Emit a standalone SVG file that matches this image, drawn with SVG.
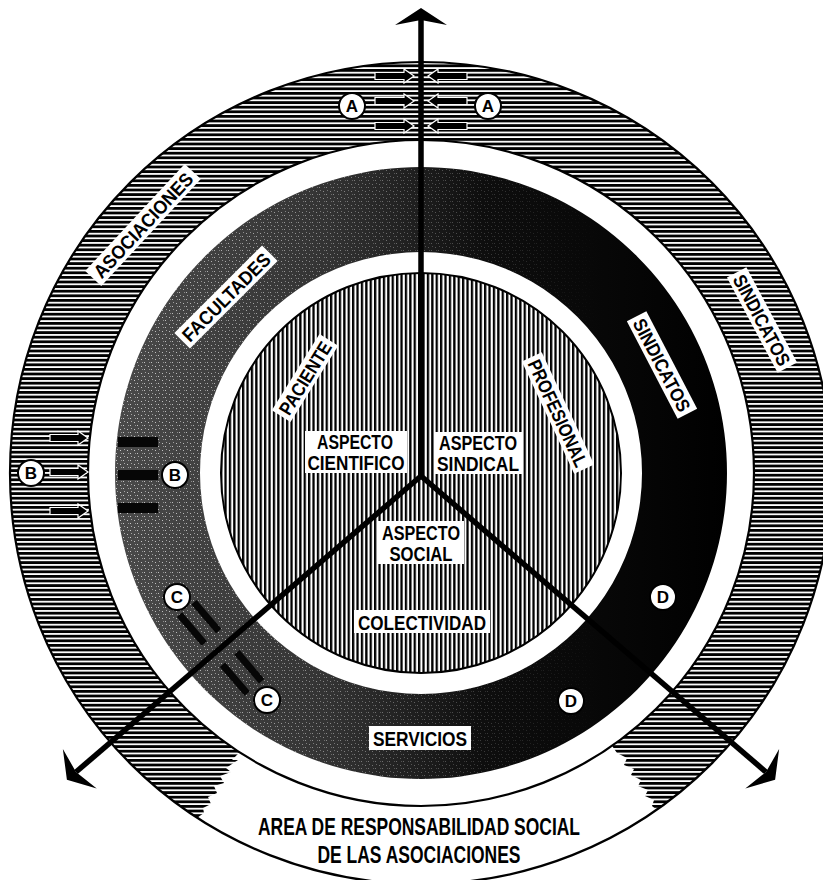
<svg xmlns="http://www.w3.org/2000/svg" width="823" height="880" viewBox="0 0 823 880">
<style>
.lbl{font-family:"Liberation Sans Narrow","Liberation Sans",Arial,sans-serif;font-weight:bold;fill:#000;text-anchor:middle}
.box{fill:#fff}
.ln{stroke:#000;stroke-width:5.5;fill:none}
.circ{fill:#fff;stroke:#000;stroke-width:2}
.let{font-family:"Liberation Sans",Arial,sans-serif;font-weight:bold;font-size:17px;fill:#000;text-anchor:middle}
.arr{fill:#000;stroke:#fff;stroke-width:1.2}
.bar{fill:#060606}
</style>
<defs>
<pattern id="hh" width="8" height="4.6" patternUnits="userSpaceOnUse"><rect width="8" height="4.6" fill="#fff"/><rect width="8" height="2.8" fill="#000"/></pattern>
<pattern id="vh" width="4.4" height="8" patternUnits="userSpaceOnUse"><rect width="4.4" height="8" fill="#fff"/><rect width="2.3" height="8" fill="#000"/></pattern>
<linearGradient id="dg" gradientUnits="userSpaceOnUse" x1="115" y1="0" x2="728" y2="0">
<stop offset="0" stop-color="#4a4a4a"/><stop offset="0.35" stop-color="#333"/><stop offset="0.6" stop-color="#0e0e0e"/><stop offset="1" stop-color="#000"/>
</linearGradient>
<pattern id="sp" width="7" height="7" patternUnits="userSpaceOnUse"><rect x="1" y="2" width="1" height="1" fill="#ccc"/><rect x="4" y="5" width="1" height="1" fill="#ccc"/><rect x="5" y="1" width="1" height="1" fill="#aaa"/><rect x="2" y="5" width="1" height="1" fill="#999"/></pattern>
<linearGradient id="mg" gradientUnits="userSpaceOnUse" x1="115" y1="0" x2="600" y2="0"><stop offset="0" stop-color="#fff"/><stop offset="1" stop-color="#000"/></linearGradient>
<mask id="spm"><rect width="823" height="880" fill="url(#mg)"/></mask>
<marker id="ah" markerUnits="userSpaceOnUse" viewBox="-6 -28 20 56" markerWidth="20" markerHeight="56" refX="0" refY="0" orient="auto">
<path d="M12,0 L-5,-26 L0,0 L-5,26 Z" fill="#000"/>
</marker>
</defs>

<g id="asociaciones-ring">
<path d="M197.2,817.7 A411,411 0 1 1 656.7,809.7 L652,806 L654,800 L645,796 L648,790 L638,786 L641,780 L631,775 L634,769 L624,765 L627,758 L617,753 L612,745.8 A333,333 0 1 0 239.6,752.3 L232,760 L238,760 L226,768 L231,772 L220,776 L224,783 L214,786 L217,793 L208,797 L211,804 L203,808 L204,813 Z" fill="url(#hh)"/>
<circle cx="421" cy="473" r="411" fill="none" stroke="#000" stroke-width="2.2"/>
<circle cx="421" cy="473" r="333" fill="none" stroke="#000" stroke-width="2.2"/>
</g>

<g id="facultades-ring">
<path d="M421,167 A306,306 0 1 1 420.99,167 Z M421,252 A221,221 0 1 0 421.01,252 Z" fill="url(#dg)" fill-rule="evenodd"/>
<path d="M421,167 A306,306 0 1 1 420.99,167 Z M421,252 A221,221 0 1 0 421.01,252 Z" fill="url(#sp)" fill-rule="evenodd" mask="url(#spm)"/>
<rect class="bar" x="118" y="437" width="40" height="10"/>
<rect class="bar" x="118" y="470" width="40" height="10"/>
<rect class="bar" x="118" y="503" width="40" height="10"/>
<g transform="translate(220.6,647.9) rotate(49.4)">
<rect class="bar" x="-52" y="-13" width="38" height="7"/>
<rect class="bar" x="-52" y="6" width="38" height="7"/>
<rect class="bar" x="14" y="-13" width="38" height="7"/>
<rect class="bar" x="14" y="6" width="38" height="7"/>
</g>
</g>

<g id="inner-circle">
<circle cx="421" cy="473" r="200" fill="url(#vh)" stroke="#000" stroke-width="2"/>
</g>

<g id="connectors">
<line class="ln" x1="421" y1="476" x2="421" y2="20" stroke-width="6" marker-end="url(#ah)"/>
<line class="ln" x1="421" y1="476" x2="76" y2="772" marker-end="url(#ah)"/>
<line class="ln" x1="421" y1="476" x2="766" y2="772" marker-end="url(#ah)"/>
</g>

<g id="arrows-A">
<polygon class="arr" points="375,72.5 404,72.5 404,69 414,76 404,83 404,79.5 375,79.5"/>
<polygon class="arr" points="375,97.5 404,97.5 404,94 414,101 404,108 404,104.5 375,104.5"/>
<polygon class="arr" points="375,122.5 404,122.5 404,119 414,126 404,133 404,129.5 375,129.5"/>
<polygon class="arr" points="467,72.5 438,72.5 438,69 428,76 438,83 438,79.5 467,79.5"/>
<polygon class="arr" points="467,97.5 438,97.5 438,94 428,101 438,108 438,104.5 467,104.5"/>
<polygon class="arr" points="467,122.5 438,122.5 438,119 428,126 438,133 438,129.5 467,129.5"/>
</g>
<g id="arrows-B">
<polygon class="arr" points="50,434.5 78,434.5 78,431 88,438 78,445 78,441.5 50,441.5"/>
<polygon class="arr" points="50,468.5 78,468.5 78,465 88,472 78,479 78,475.5 50,475.5"/>
<polygon class="arr" points="50,507.5 78,507.5 78,504 88,511 78,518 78,514.5 50,514.5"/>
</g>

<g id="marks">
<g id="A1"><circle class="circ" cx="352" cy="106" r="13"/><text class="let" x="352" y="112">A</text></g>
<g id="A2"><circle class="circ" cx="488" cy="106" r="13"/><text class="let" x="488" y="112">A</text></g>
<g id="B1"><circle class="circ" cx="31" cy="473" r="13"/><text class="let" x="31" y="479">B</text></g>
<g id="B2"><circle class="circ" cx="175" cy="475" r="13"/><text class="let" x="175" y="481">B</text></g>
<g id="C1"><circle class="circ" cx="177" cy="597" r="13"/><text class="let" x="177" y="603">C</text></g>
<g id="C2"><circle class="circ" cx="267" cy="700" r="13"/><text class="let" x="267" y="706">C</text></g>
<g id="D1"><circle class="circ" cx="663" cy="597" r="13"/><text class="let" x="663" y="603">D</text></g>
<g id="D2"><circle class="circ" cx="571" cy="701" r="13"/><text class="let" x="571" y="707">D</text></g>
</g>

<g id="ring-labels">
<g id="lbl-asociaciones" transform="translate(143,225) rotate(-47)"><rect class="box" x="-73" y="-11" width="146" height="22"/><text class="lbl" x="0" y="7" font-size="19" textLength="136" lengthAdjust="spacingAndGlyphs">ASOCIACIONES</text></g>
<g id="lbl-facultades" transform="translate(226,297) rotate(-45)"><rect class="box" x="-62" y="-11" width="124" height="22"/><text class="lbl" x="0" y="7" font-size="19" textLength="116" lengthAdjust="spacingAndGlyphs">FACULTADES</text></g>
<g id="lbl-sindicatos-out" transform="translate(762,320) rotate(62)"><rect class="box" x="-54" y="-11" width="108" height="22"/><text class="lbl" x="0" y="7" font-size="19" textLength="100" lengthAdjust="spacingAndGlyphs">SINDICATOS</text></g>
<g id="lbl-sindicatos-in" transform="translate(662,365) rotate(62.5)"><rect class="box" x="-55" y="-11" width="110" height="22"/><text class="lbl" x="0" y="7" font-size="19" textLength="102" lengthAdjust="spacingAndGlyphs">SINDICATOS</text></g>
<g id="lbl-profesional" transform="translate(558,413) rotate(65)"><rect class="box" x="-62" y="-11" width="124" height="22"/><text class="lbl" x="0" y="7" font-size="19" textLength="116" lengthAdjust="spacingAndGlyphs">PROFESIONAL</text></g>
<g id="lbl-paciente" transform="translate(305,378) rotate(-58)"><rect class="box" x="-45" y="-11" width="90" height="22"/><text class="lbl" x="0" y="7" font-size="19" textLength="82" lengthAdjust="spacingAndGlyphs">PACIENTE</text></g>
</g>

<g id="center-labels">
<g id="lbl-cientifico"><rect class="box" x="305" y="431" width="102" height="42"/><text class="lbl" x="355" y="449" font-size="20" textLength="76" lengthAdjust="spacingAndGlyphs">ASPECTO</text><text class="lbl" x="356" y="470" font-size="20" textLength="97" lengthAdjust="spacingAndGlyphs">CIENTIFICO</text></g>
<g id="lbl-sindical"><rect class="box" x="435" y="432" width="88" height="42"/><text class="lbl" x="478" y="450" font-size="20" textLength="78" lengthAdjust="spacingAndGlyphs">ASPECTO</text><text class="lbl" x="478" y="471" font-size="20" textLength="82" lengthAdjust="spacingAndGlyphs">SINDICAL</text></g>
<g id="lbl-social"><rect class="box" x="378" y="521" width="86" height="43"/><text class="lbl" x="421" y="540" font-size="20" textLength="78" lengthAdjust="spacingAndGlyphs">ASPECTO</text><text class="lbl" x="421" y="561" font-size="20" textLength="63" lengthAdjust="spacingAndGlyphs">SOCIAL</text></g>
<g id="lbl-colectividad"><rect class="box" x="354" y="610" width="136" height="23"/><text class="lbl" x="422" y="630" font-size="20" textLength="128" lengthAdjust="spacingAndGlyphs">COLECTIVIDAD</text></g>
<g id="lbl-servicios"><rect class="box" x="369" y="726" width="102" height="24"/><text class="lbl" x="420" y="746" font-size="20" textLength="94" lengthAdjust="spacingAndGlyphs">SERVICIOS</text></g>
<g id="lbl-area"><text class="lbl" x="419" y="835" font-size="24" textLength="322" lengthAdjust="spacingAndGlyphs">AREA DE RESPONSABILIDAD SOCIAL</text><text class="lbl" x="419" y="863" font-size="24" textLength="203" lengthAdjust="spacingAndGlyphs">DE LAS ASOCIACIONES</text></g>
</g>
</svg>
